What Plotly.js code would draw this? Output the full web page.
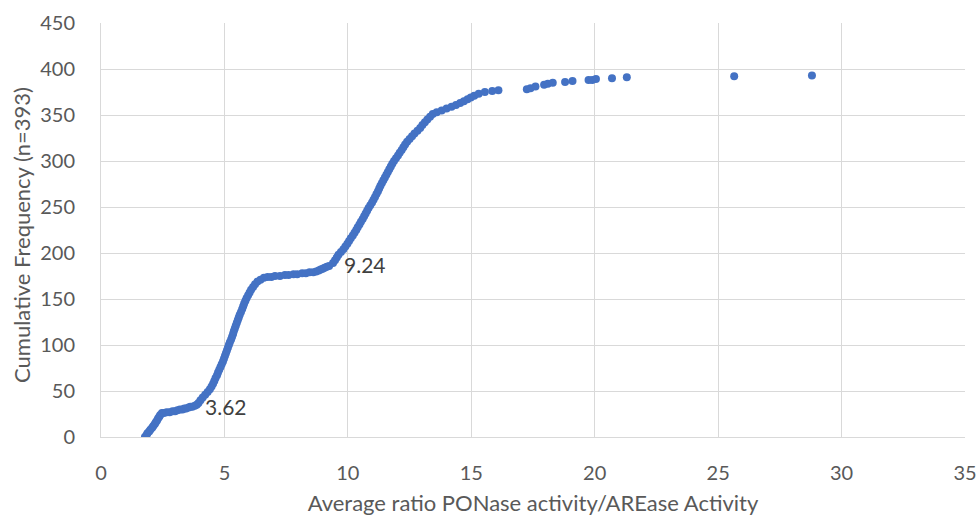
<!DOCTYPE html>
<html>
<head>
<meta charset="utf-8">
<script src="https://cdn.plot.ly/plotly-3.0.1.min.js"></script>
<style>html,body{margin:0;padding:0;background:#fff;}#chart{width:979px;height:521px;}</style>
</head>
<body>
<div id="chart"></div>
<script>
// Average ratio PONase/AREase (sorted) and cumulative frequency
const ratio = [
  1.78,1.84,1.88,1.95,2.0,2.07,2.12,2.18,2.22,2.27,2.31,2.36,2.4,2.47,
  2.55,2.66,2.78,2.9,3.0,3.1,3.2,3.3,3.38,3.45,3.55,3.62,3.7,3.8,3.88,
  3.95,4.03,4.12,4.22,4.32,4.41,4.48,4.54,4.59,4.64,4.7,4.74,4.79,4.84,4.89,4.94,4.98,5.02,5.06,5.1,5.14,5.18,5.22,5.27,5.31,5.35,5.38,5.42,5.46,5.5,5.54,5.58,5.62,5.67,5.72,5.76,5.8,5.85,5.9,5.96,6.02,6.08,6.16,6.24,6.34,6.46,6.6,
  6.75,6.9,7.05,7.25,7.45,7.6,7.8,7.95,8.15,8.3,8.45,8.6,8.72,8.82,8.9,8.98,9.06,9.15,9.24,
  9.4,9.48,9.55,9.62,9.72,9.82,9.9,9.98,10.05,10.12,10.2,10.27,10.34,10.4,10.47,10.53,10.6,10.66,10.72,10.78,10.84,10.91,10.98,11.04,11.1,11.16,11.22,11.27,11.32,11.38,11.44,11.5,11.56,11.62,11.68,11.74,11.8,11.87,11.95,12.03,12.1,12.18,12.25,12.32,12.4,12.5,12.6,12.7,12.82,12.93,13.02,13.12,13.22,13.33,13.44,13.6,13.8,14.0,14.2,14.38,14.55,14.7,14.85,14.98,15.12,15.3,15.55,15.85,16.1,
  17.25,17.4,17.6,17.95,18.1,18.3,18.8,19.1,19.75,19.9,20.05,20.7,21.3,25.65,28.8
];
const cumFreq = [
  0,2,4,6,8,10,12,14,16,18,20,22,24,26,
  26,27,27,28,28,29,30,30,31,31,32,33,33,34,35,
  37,40,43,46,49,52,55,58,61,64,67,70,73,76,79,82,85,88,91,94,97,100,103,106,109,112,115,118,121,124,127,130,133,136,139,142,145,148,151,154,157,160,163,166,169,171,173,
  174,174,175,175,176,176,177,177,178,178,179,179,180,181,182,183,184,185,186,
  189,192,195,198,201,204,207,210,213,216,219,222,225,228,231,234,237,240,243,246,249,252,255,258,261,264,267,270,273,276,279,282,285,288,291,294,297,300,303,306,309,312,315,318,321,324,327,330,333,336,339,342,345,348,351,353,355,357,359,361,363,365,367,369,371,373,375,376,377,
  378,379,381,383,384,385,386,387,388,388,389,390,391,392,393
];
const labelX = [3.62, 9.24];
const labelY = [33, 186];
const labelText = ["3.62", "9.24"];
const xTicks = [0,5,10,15,20,25,30,35];
const yTicks = [0,50,100,150,200,250,300,350,400,450];
const yTitle = "Cumulative Frequency (n=393)";

const FONT = "Lato, 'Open Sans', sans-serif";
const trace = {
  x: ratio, y: cumFreq, type: "scatter", mode: "markers",
  marker: {color: "#4472C4", size: 8, line: {width: 0}},
  hoverinfo: "x+y"
};
const labelYShift = [0, 1];
const annotations = labelX.map((x, i) => ({
  x: x, y: labelY[i], text: labelText[i], showarrow: false,
  xanchor: "left", yanchor: "middle", xshift: 13, yshift: labelYShift[i],
  font: {family: FONT, size: 21, color: "#404040"}
}));
annotations.push({
  xref: "paper", yref: "paper", x: -0.0914, y: 0.488,
  xanchor: "center", yanchor: "middle", textangle: -90, showarrow: false,
  text: yTitle, font: {family: FONT, size: 22, color: "#595959"}
});
const layout = {
  width: 979, height: 521,
  margin: {l: 101, r: 14, t: 23, b: 84},
  paper_bgcolor: "#ffffff", plot_bgcolor: "#ffffff",
  showlegend: false,
  font: {family: FONT, size: 20, color: "#595959"},
  xaxis: {
    range: [0, 35], tickvals: xTicks, ticktext: xTicks.map(String),
    showgrid: true, gridcolor: "#d9d9d9", gridwidth: 1,
    showline: true, linecolor: "#d9d9d9", linewidth: 1,
    zeroline: false, ticks: "", ticklabelstandoff: 18,
    tickfont: {family: FONT, size: 20, color: "#595959"},
    title: {text: "Average ratio PONase activity/AREase Activity", standoff: 12,
            font: {family: FONT, size: 22, color: "#595959"}}
  },
  yaxis: {
    range: [0, 450], tickvals: yTicks, ticktext: yTicks.map(String),
    showgrid: true, gridcolor: "#d9d9d9", gridwidth: 1,
    showline: true, linecolor: "#d9d9d9", linewidth: 1,
    zeroline: false, ticks: "", ticklabelstandoff: 21,
    tickfont: {family: FONT, size: 20, color: "#595959"}
  },
  annotations: annotations
};
Plotly.newPlot("chart", [trace], layout, {displayModeBar: false, staticPlot: true});
</script>
</body>
</html>
